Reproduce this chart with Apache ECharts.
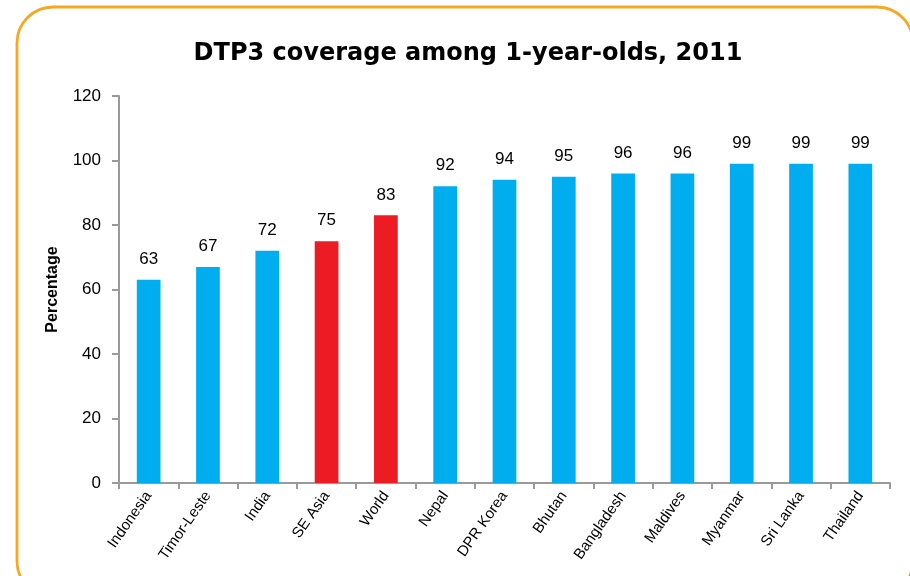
<!DOCTYPE html>
<html><head><meta charset="utf-8">
<script src="https://cdn.jsdelivr.net/npm/echarts@6/dist/echarts.min.js"></script>
<style>html,body{margin:0;padding:0;background:#fff}#c{width:910px;height:576px}</style>
</head><body><div id="c"></div>
<script>
const categories = ["Indonesia","Timor-Leste","India","SE Asia","World","Nepal","DPR Korea","Bhutan","Bangladesh","Maldives","Myanmar","Sri Lanka","Thailand"];
const values = [63,67,72,75,83,92,94,95,96,96,99,99,99];
const highlighted = ["SE Asia","World"];
const yTicks = {min:0,max:120,interval:20};
const narrow = "'Liberation Sans Narrow','Arial Narrow','Liberation Sans',sans-serif";
const chart = echarts.init(document.getElementById('c'));
chart.setOption({
  animation:false,
  title:{text:"DTP3 coverage among 1-year-olds, 2011",left:463,textAlign:'center',top:37,
    textStyle:{fontFamily:"'DejaVu Sans',Verdana,sans-serif",fontWeight:'bold',fontSize:24,color:'#000'}},
  graphic:[{type:'rect',shape:{x:17,y:7,width:896,height:590,r:36},
    style:{fill:'none',stroke:'#F7A823',lineWidth:2.8},z:-1}],
  grid:{left:119,right:20,top:96,bottom:93,containLabel:false},
  xAxis:{type:'category',data:categories,
    axisLine:{lineStyle:{color:'#9a9a9a',width:2}},
    axisTick:{show:true,length:6,lineStyle:{color:'#9a9a9a',width:2}},
    axisLabel:{rotate:55,interval:0,fontFamily:narrow,fontSize:15,color:'#000',margin:10}},
  yAxis:{type:'value',min:yTicks.min,max:yTicks.max,interval:yTicks.interval,
    name:'Percentage',nameLocation:'middle',nameGap:58,nameRotate:90,
    nameTextStyle:{fontFamily:narrow,fontWeight:'bold',fontSize:16,color:'#000'},
    axisLine:{show:true,lineStyle:{color:'#9a9a9a',width:2}},
    axisTick:{show:true,length:7,lineStyle:{color:'#9a9a9a',width:2}},
    splitLine:{show:false},
    axisLabel:{fontFamily:narrow,fontSize:17,color:'#000',margin:18}},
  series:[{type:'bar',barWidth:'40%',
    data:values.map((v,i)=>({value:v,itemStyle:{color:highlighted.includes(categories[i])?'#ED1C24':'#00AEEF'}})),
    label:{show:true,position:'top',distance:12,fontFamily:narrow,fontSize:17,color:'#000'}}]
});
</script></body></html>
